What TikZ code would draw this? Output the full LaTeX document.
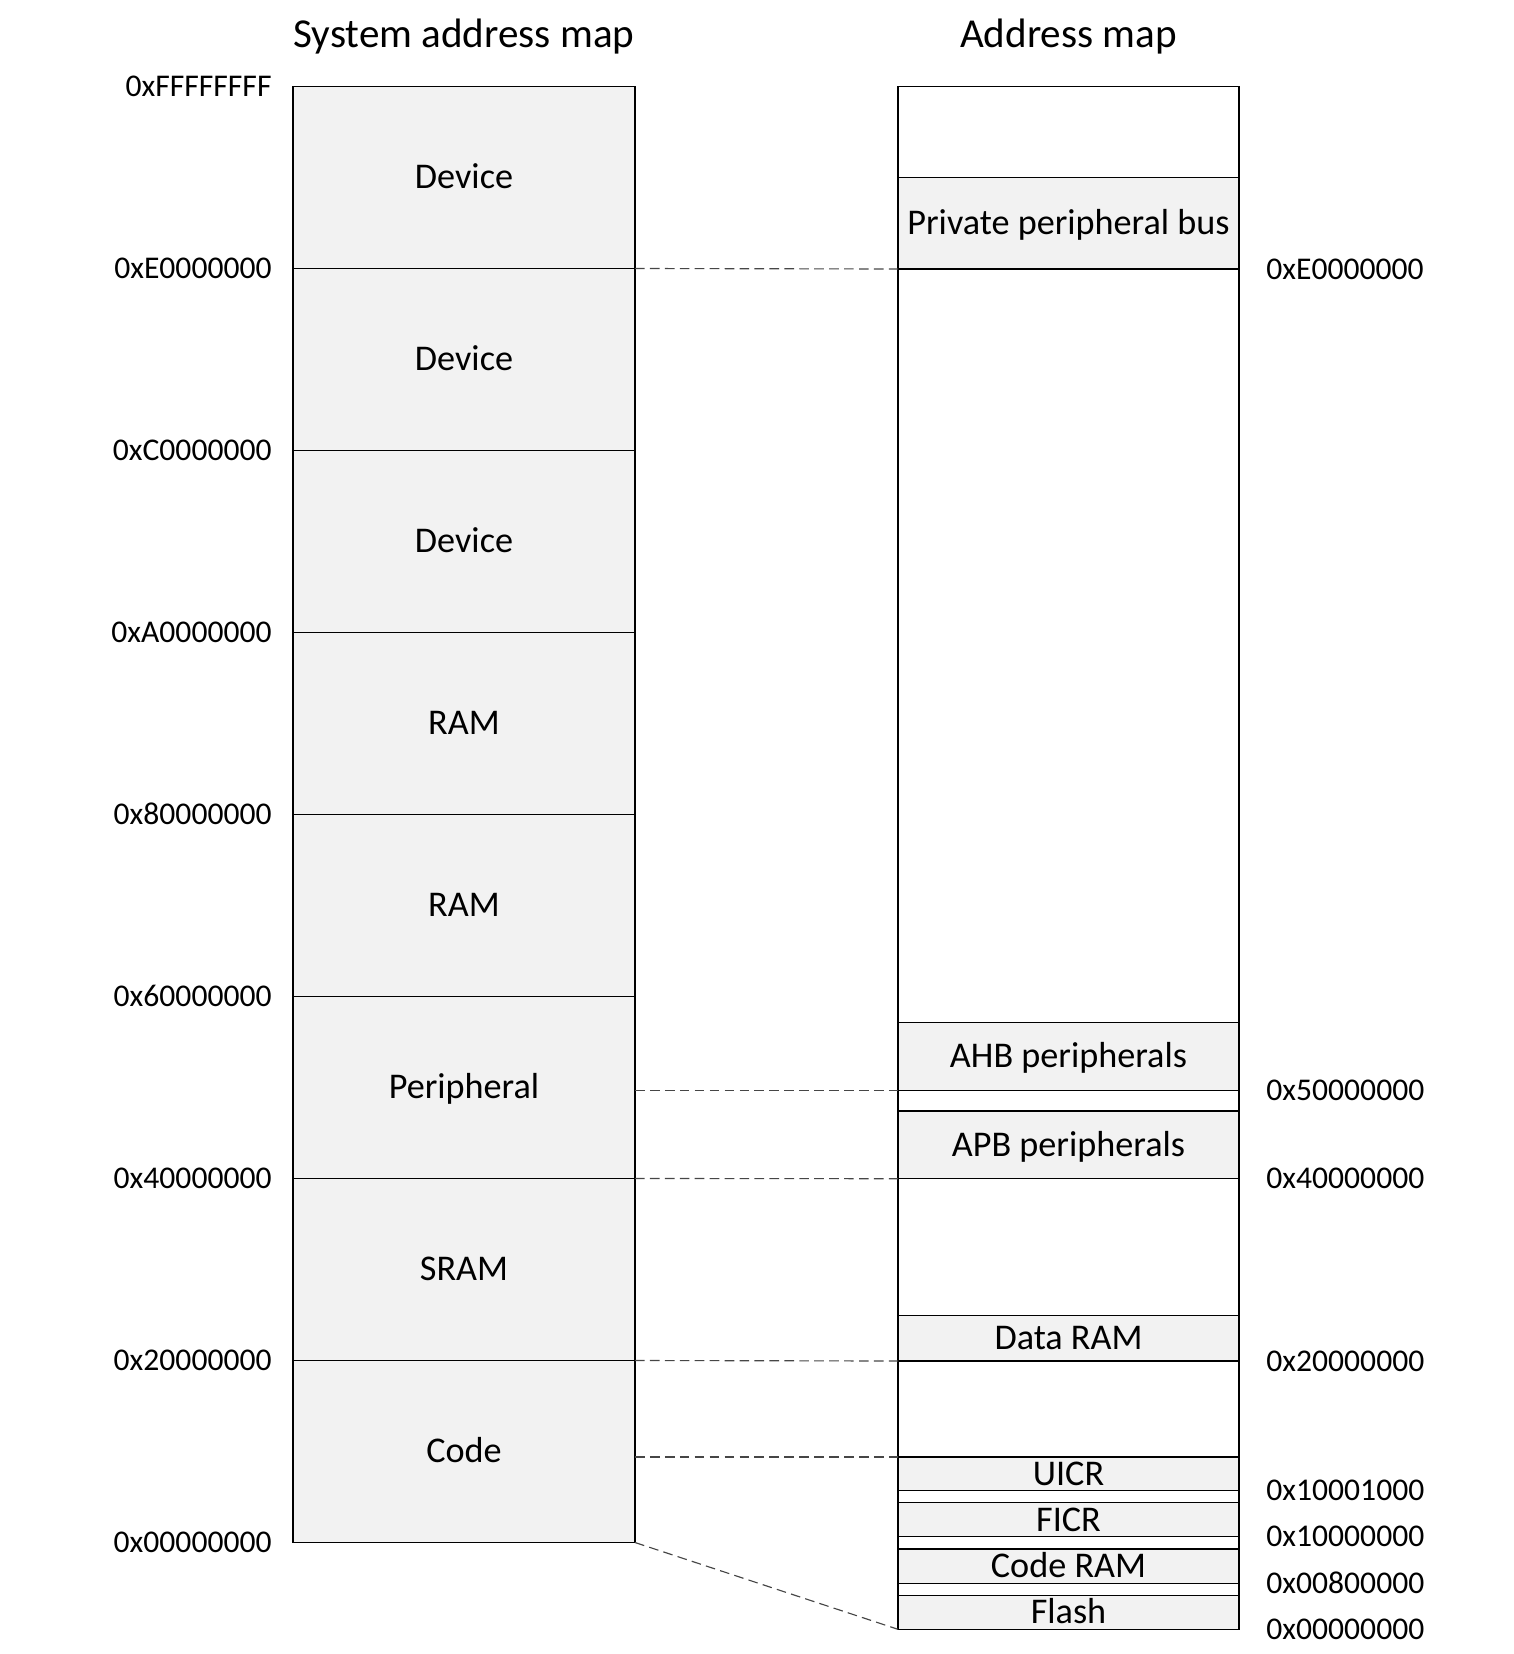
\documentclass[tikz,border=0pt]{standalone}
\usepackage{fontspec}
\setmainfont{Carlito}
\usepackage{tikz}
\usetikzlibrary{calc}
\usepackage{xcolor}
\definecolor{regiongray}{RGB}{242,242,242}
\definecolor{linkgray}{RGB}{70,70,70}

\begin{document}
\begin{tikzpicture}[x=0.02cm,y=-0.02cm,
  region/.style={draw=black,fill=regiongray,line width=0.8pt},
  title/.style={font=\fontsize{23.4}{26}\selectfont,inner sep=0pt,text height=14.8pt,text depth=0pt},
  tag/.style={font=\fontsize{20.6}{24}\selectfont,inner sep=0pt,text height=13pt,text depth=0pt},
  addr/.style={font=\fontsize{18}{22}\selectfont,inner sep=0pt,text height=11.4pt,text depth=0pt},
  link/.style={draw=linkgray,line width=0.65pt,dash pattern=on 5.5pt off 3pt}]
  \useasboundingbox (0,0) rectangle (1514,1654);
  \node[title] (systitle) at (464,34) {System address map};
  \node[title] (maptitle) at (1068.5,34) {Address map};
  % system address map: eight equal slices
  \foreach \i/\txt/\adr in {0/Device/E0000000,1/Device/C0000000,2/Device/A0000000,
      3/RAM/80000000,4/RAM/60000000,5/Peripheral/40000000,6/SRAM/20000000,7/Code/00000000}{
    \pgfmathsetmacro{\ytop}{86.5+182*\i}
    \pgfmathsetmacro{\ybot}{\ytop+182}
    \draw[region] (293,\ytop) rectangle (635,\ybot);
    \node[tag] (sys\i) at (464,{(\ytop+\ybot)/2}) {\txt};
    \node[addr,anchor=east] (saddr\i) at (272,\ybot) {0x\adr};
  }
  \node[addr,anchor=east] (saddrtop) at (272,86.5) {0xFFFFFFFF};
  % device address map
  \draw[line width=0.8pt] (898,86.5) rectangle (1239,1629.3);
  \foreach \nm/\ytop/\ybot/\txt in {ppb/177.2/269/Private peripheral bus,
      ahb/1022.6/1090.4/AHB peripherals,apb/1111/1178.7/APB peripherals,
      dram/1315.6/1361/Data RAM,uicr/1457/1490.7/UICR,ficr/1502.7/1536.7/FICR,
      cram/1549/1583.7/Code RAM,flash/1595.3/1629.3/Flash}{
    \draw[region] (898,\ytop) rectangle (1239,\ybot);
    \node[tag] (\nm) at (1068.5,{(\ytop+\ybot)/2}) {\txt};
  }
  \foreach \nm/\y/\adr in {ppb/269/E0000000,ahb/1090.4/50000000,apb/1178.7/40000000,
      dram/1361/20000000,uicr/1490.7/10001000,ficr/1536.7/10000000,
      cram/1583.7/00800000,flash/1629.3/00000000}{
    \node[addr,anchor=west] (maddr\nm) at (1266,\y) {0x\adr};
  }
  % dashed links between the two maps
  \foreach \nm/\ya/\yb in {ppb/268.5/269,per/1090.4/1090.4,apb/1178.5/1178.7,
      sram/1360.5/1361,uicr/1457/1457,code/1542.5/1629.3}{
    \coordinate (from\nm) at (635,\ya);
    \coordinate (to\nm) at (898,\yb);
    \draw[link] (from\nm) -- (to\nm);
  }
\end{tikzpicture}
\end{document}
